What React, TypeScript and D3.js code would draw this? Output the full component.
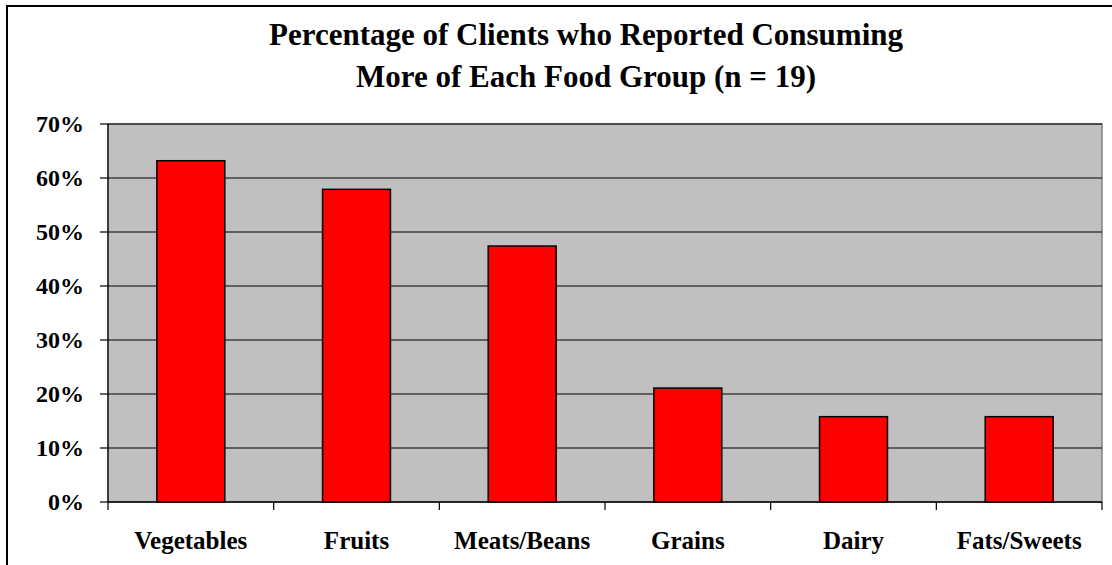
import React from "react";
import * as d3 from "d3";

const categories = ["Vegetables", "Fruits", "Meats/Beans", "Grains", "Dairy", "Fats/Sweets"];
const values = [63.2, 57.9, 47.4, 21.1, 15.8, 15.8];
const yTicks = [0, 10, 20, 30, 40, 50, 60, 70];
const titleLines = ["Percentage of Clients who Reported Consuming", "More of Each Food Group (n = 19)"];

const W = 1112;
const H = 565;
const left = 108;
const right = 1102;
const top = 124;
const bottom = 502;
const font = "'Liberation Serif', 'Times New Roman', serif";

export default function App() {
  const xc = d3.scaleBand().domain(categories).range([left, right]);
  const y = d3.scaleLinear().domain([0, 70]).range([bottom, top]);
  const barW = xc.bandwidth() * 0.41;

  return (
    <svg width={W} height={H} style={{ position: "absolute", left: 0, top: 0, background: "#fff" }}>
      <rect x={7} y={6} width={W + 10} height={H + 10} fill="#fff" stroke="#000" strokeWidth={2} />
      {titleLines.map((t, i) => (
        <text key={i} x={586} y={45 + i * 42} textAnchor="middle" style={{ fontFamily: font, fontWeight: "bold", fontSize: 31 }} fill="#000">
          {t}
        </text>
      ))}
      <rect x={left} y={top} width={right - left} height={bottom - top} fill="#c0c0c0" stroke="#808080" strokeWidth={1.5} />
      {yTicks.slice(1).map((t) => (
        <line key={t} x1={left} x2={right} y1={y(t)} y2={y(t)} stroke="#000" strokeWidth={1.2} />
      ))}
      {categories.map((c, i) => (
        <rect
          key={c}
          x={xc(c)! + xc.bandwidth() / 2 - barW / 2}
          y={y(values[i])}
          width={barW}
          height={bottom - y(values[i])}
          fill="#ff0000"
          stroke="#000"
          strokeWidth={1.5}
        />
      ))}
      <line x1={left} x2={left} y1={top} y2={bottom} stroke="#000" strokeWidth={1.2} />
      <line x1={left} x2={right} y1={bottom} y2={bottom} stroke="#000" strokeWidth={1.5} />
      {yTicks.map((t) => (
        <g key={t}>
          <line x1={left - 8} x2={left} y1={y(t)} y2={y(t)} stroke="#000" strokeWidth={1.2} />
          <text x={84} y={y(t) + 8} textAnchor="end" style={{ fontFamily: font, fontWeight: "bold", fontSize: 24 }} fill="#000">
            {t}%
          </text>
        </g>
      ))}
      {categories.map((c) => (
        <line key={"t" + c} x1={xc(c)!} x2={xc(c)!} y1={bottom} y2={bottom + 8} stroke="#000" strokeWidth={1.2} />
      ))}
      <line x1={right} x2={right} y1={bottom} y2={bottom + 8} stroke="#000" strokeWidth={1.2} />
      {categories.map((c) => (
        <text key={"l" + c} x={xc(c)! + xc.bandwidth() / 2} y={549} textAnchor="middle" style={{ fontFamily: font, fontWeight: "bold", fontSize: 25 }} fill="#000">
          {c}
        </text>
      ))}
    </svg>
  );
}
